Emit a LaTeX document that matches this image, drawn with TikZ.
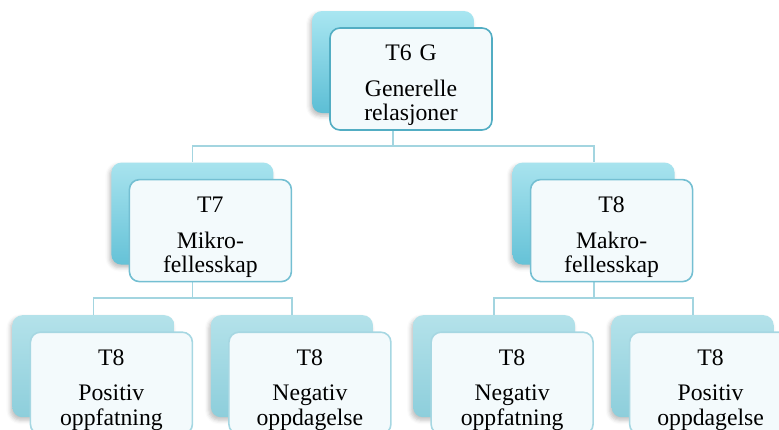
\documentclass[tikz,border=0pt]{standalone}
\usepackage{fontspec}
\setmainfont{Liberation Serif}
\usepackage{tikz}
\usetikzlibrary{positioning, calc, backgrounds, shadows.blur}
\definecolor{frontfill}{RGB}{243, 250, 252}
\definecolor{edgeone}{RGB}{82, 173, 195}
\definecolor{edgetwo}{RGB}{116, 191, 210}
\definecolor{edgethree}{RGB}{166, 215, 226}
\definecolor{backtopone}{RGB}{169, 230, 241}
\definecolor{backbotone}{RGB}{92, 190, 213}
\definecolor{backtoptwo}{RGB}{168, 227, 238}
\definecolor{backbottwo}{RGB}{101, 194, 215}
\definecolor{backtopthree}{RGB}{180, 226, 234}
\definecolor{backbotthree}{RGB}{141, 206, 219}
\definecolor{linkcolor}{RGB}{163, 213, 224}
\tikzstyle{card} = [rectangle, rounded corners=10pt, minimum width=162pt, minimum height=102pt, inner sep=0pt, text width=160pt, align=center, fill=frontfill, line width=1.6pt, font=\fontsize{23.7}{24.5}\selectfont, execute at begin node={\rule{0pt}{29pt}}]
\tikzstyle{cardone} = [card, draw=edgeone]
\tikzstyle{cardtwo} = [card, draw=edgetwo]
\tikzstyle{cardthree} = [card, draw=edgethree]
\tikzstyle{backbox} = [rectangle, rounded corners=10pt, minimum width=162pt, minimum height=102pt, inner sep=0pt, blur shadow={shadow xshift=-2pt, shadow yshift=-3pt, shadow blur radius=4pt, shadow opacity=25}]
\tikzstyle{link} = [line width=1.8pt, color=linkcolor]

\begin{document}
\begin{tikzpicture}[x=1pt, y=1pt]
\useasboundingbox (0,0) rectangle (779,-429);
\clip (0,0) rectangle (779,-429);

% Front cards
\node (gen) [cardone] at (411,-79) {T6 G\\[11pt]Generelle\\relasjoner};

\node (mikro) [cardtwo, below left=48pt and 37pt of gen] {T7\\[11pt]Mikro-\\fellesskap};
\node (makro) [cardtwo, below right=48pt and 37pt of gen] {T8\\[11pt]Makro-\\fellesskap};

\node (posopp) [cardthree, below=49pt of mikro, xshift=-99pt] {T8\\[11pt]Positiv\\oppfatning};
\node (negoppd) [cardthree, below=49pt of mikro, xshift=99.5pt] {T8\\[11pt]Negativ\\oppdagelse};
\node (negopp) [cardthree, below=49pt of makro, xshift=-99.5pt] {T8\\[11pt]Negativ\\oppfatning};
\node (posoppd) [cardthree, below=49pt of makro, xshift=99pt] {T8\\[11pt]Positiv\\oppdagelse};

\begin{pgfonlayer}{background}
% Back cards
\foreach \n/\lvl in {gen/one, mikro/two, makro/two, posopp/three, negoppd/three, negopp/three, posoppd/three}
  \node (\n-b) [backbox, top color=backtop\lvl, bottom color=backbot\lvl] at ($(\n)+(-18,17)$) {};

% Links
\draw [link] (gen-b.south) -- ++(0,-33) -| (mikro-b.north);
\draw [link] (gen-b.south) -- ++(0,-33) -| (makro-b.north);

\draw [link] (mikro-b.south) -- ++(0,-33) -| (posopp-b.north);
\draw [link] (mikro-b.south) -- ++(0,-33) -| (negoppd-b.north);

\draw [link] (makro-b.south) -- ++(0,-33) -| (negopp-b.north);
\draw [link] (makro-b.south) -- ++(0,-33) -| (posoppd-b.north);
\end{pgfonlayer}

\end{tikzpicture}
\end{document}
